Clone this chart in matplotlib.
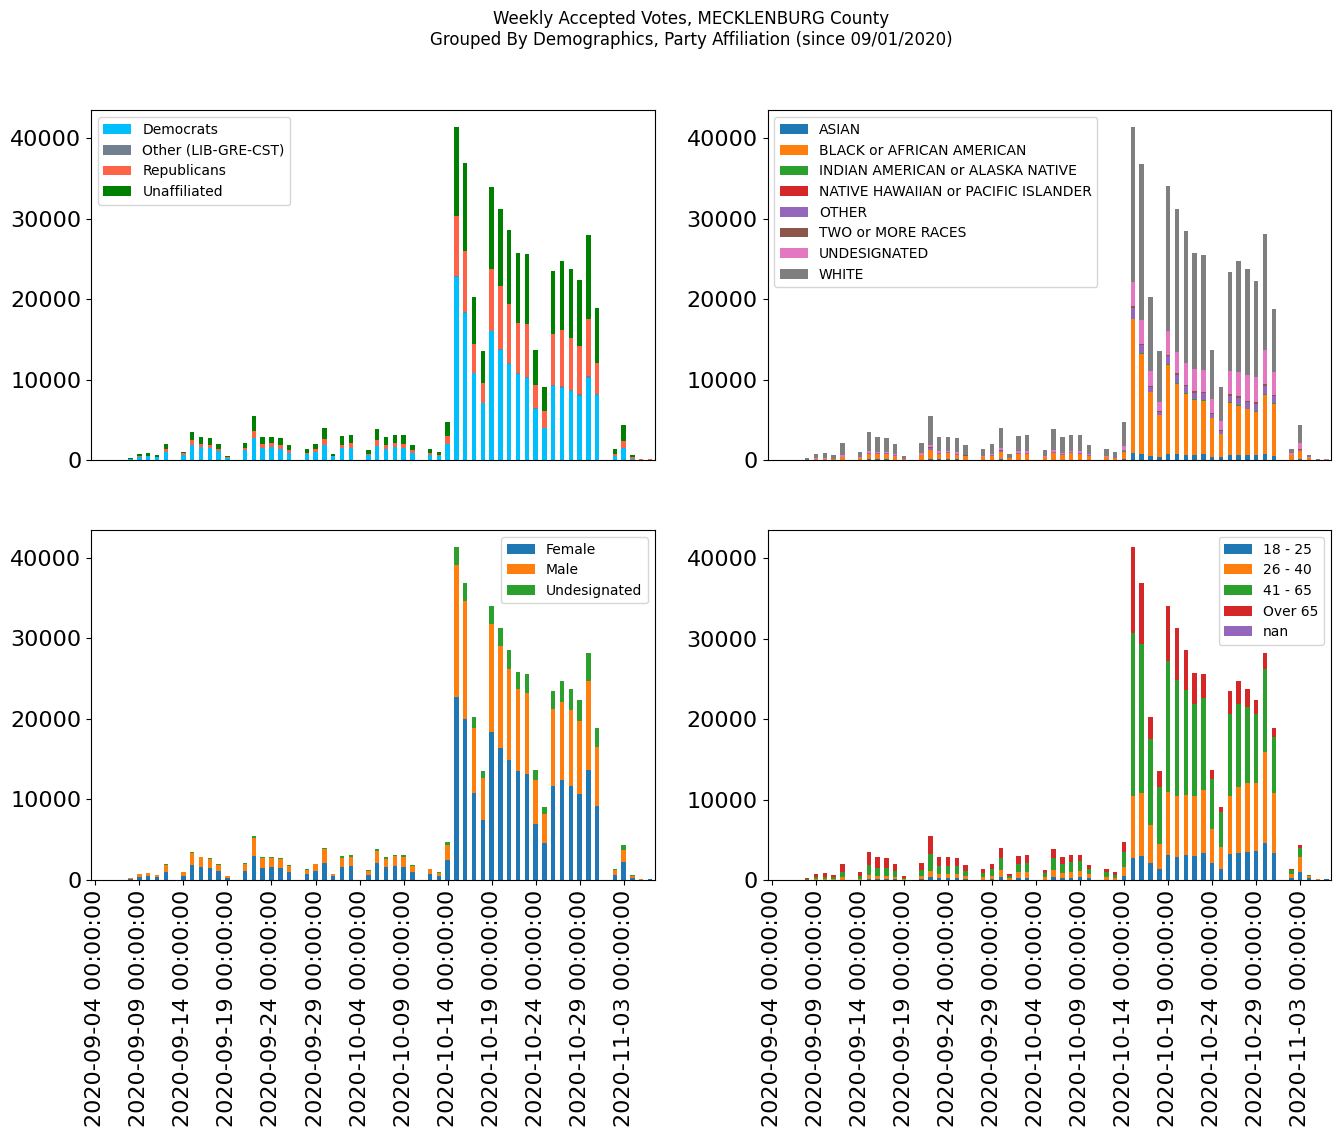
import numpy as np
import pandas as pd
import matplotlib
matplotlib.use("Agg")
import matplotlib.pyplot as plt

# ---------------- data ----------------
START_DATE = "2020-09-04"
N_DAYS = 64
DATES = pd.date_range(START_DATE, periods=N_DAYS)
TICK_STEP = 5

# Party affiliation
PARTY_LABELS = ["Democrats", "Other (LIB-GRE-CST)", "Republicans", "Unaffiliated"]
DEM = [0, 0, 0,
       0, 100, 330, 500, 330, 1040, 0,
       620, 1820, 1570, 1490, 1120, 250, 0,
       1280, 2730, 1490, 1570, 1320, 830, 0,
       790, 1040, 1820, 500, 1450, 1490, 0,
       620, 1780, 1370, 1570, 1530, 870, 0,
       620, 540, 2030, 22700, 18300, 10770, 7080,
       16000, 13700, 12000, 10700, 10200, 6380, 3980,
       9200, 9000, 8600, 7950, 10200, 8100, 0,
       540, 1530, 120, 0, 0]
OTH = [0, 0, 0,
       0, 0, 10, 0, 10, 10, 0,
       10, 20, 10, 10, 10, 0, 0,
       10, 20, 10, 10, 10, 10, 0,
       0, 10, 20, 0, 10, 10, 0,
       0, 20, 10, 10, 10, 10, 0,
       0, 0, 20, 150, 150, 50, 40,
       100, 80, 80, 80, 80, 120, 50,
       150, 150, 100, 200, 250, 100, 0,
       0, 10, 0, 0, 0]
REP = [0, 0, 0,
       0, 30, 200, 50, 40, 330, 0,
       210, 660, 420, 330, 250, 120, 0,
       210, 870, 500, 540, 540, 410, 0,
       80, 330, 790, 30, 410, 620, 0,
       130, 700, 490, 540, 460, 370, 0,
       250, 80, 950, 7450, 7600, 3600, 2490,
       7700, 7800, 7300, 6300, 6600, 2820, 2060,
       6300, 7000, 6450, 6000, 7100, 3850, 0,
       250, 830, 250, 100, 100]
UNA = [0, 0, 0,
       0, 120, 210, 320, 250, 630, 0,
       170, 1000, 870, 910, 620, 130, 0,
       620, 1870, 870, 750, 870, 620, 0,
       500, 620, 1370, 220, 1120, 990, 0,
       490, 1370, 990, 990, 1120, 620, 0,
       500, 370, 1740, 11100, 10900, 5850, 3970,
       10200, 9700, 9200, 8700, 8700, 4340, 2980,
       7850, 8550, 8550, 8200, 10400, 6850, 0,
       580, 1990, 250, 0, 0]

# Race
RACE_LABELS = ["ASIAN", "BLACK or AFRICAN AMERICAN", "INDIAN AMERICAN or ALASKA NATIVE",
               "NATIVE HAWAIIAN or PACIFIC ISLANDER", "OTHER", "TWO or MORE RACES",
               "UNDESIGNATED", "WHITE"]
ASIAN = [0, 0, 0,
         0, 0, 10, 10, 10, 30, 0,
         10, 80, 80, 80, 60, 10, 0,
         50, 120, 80, 80, 80, 60, 0,
         20, 40, 120, 10, 60, 60, 0,
         20, 50, 40, 50, 50, 30, 0,
         20, 20, 80, 910, 750, 500, 370,
         750, 750, 620, 620, 750, 370, 370,
         620, 620, 620, 620, 750, 500, 0,
         30, 100, 10, 0, 0]
BLACK = [0, 0, 0,
         0, 50, 80, 100, 80, 300, 0,
         250, 670, 670, 670, 440, 120, 0,
         530, 1120, 670, 790, 540, 440, 0,
         340, 460, 880, 200, 690, 690, 0,
         340, 780, 580, 780, 700, 470, 0,
         350, 280, 960, 16600, 12450, 7950, 5230,
         11050, 8700, 7600, 6850, 6600, 4850, 2880,
         6500, 6100, 5700, 5400, 7350, 6500, 0,
         550, 1000, 200, 0, 0]
INDIAN = [0, 0, 0,
          0, 0, 0, 0, 0, 10, 0,
          0, 10, 10, 10, 10, 0, 0,
          10, 20, 10, 10, 10, 10, 0,
          0, 10, 20, 0, 10, 10, 0,
          0, 10, 10, 10, 10, 10, 0,
          0, 0, 20, 60, 50, 40, 30,
          150, 100, 80, 80, 80, 30, 20,
          80, 80, 60, 60, 80, 80, 0,
          0, 10, 0, 0, 0]
NHPI = [0, 0, 0,
        0, 0, 0, 0, 0, 0, 0,
        0, 10, 0, 0, 0, 0, 0,
        0, 10, 0, 0, 0, 0, 0,
        0, 0, 10, 0, 0, 0, 0,
        0, 0, 0, 0, 0, 0, 0,
        0, 0, 10, 20, 20, 10, 10,
        20, 20, 20, 20, 20, 10, 10,
        20, 20, 20, 20, 20, 20, 0,
        0, 0, 0, 0, 0]
OTHER_RACE = [0, 0, 0,
              0, 0, 30, 20, 20, 40, 0,
              20, 100, 60, 60, 60, 80, 0,
              50, 250, 100, 100, 120, 40, 0,
              20, 80, 130, 10, 120, 80, 0,
              30, 120, 80, 100, 100, 80, 0,
              30, 20, 150, 1300, 1050, 600, 370,
              1000, 950, 850, 750, 870, 480, 370,
              750, 870, 870, 870, 1000, 870, 0,
              40, 150, 10, 0, 0]
TWO_MORE = [0, 0, 0,
            0, 0, 0, 0, 0, 10, 0,
            0, 20, 10, 10, 10, 0, 0,
            10, 40, 20, 20, 20, 10, 0,
            0, 10, 40, 0, 20, 50, 0,
            0, 20, 10, 20, 20, 10, 0,
            0, 0, 30, 250, 150, 120, 120,
            150, 250, 130, 250, 120, 120, 120,
            250, 250, 120, 250, 250, 120, 0,
            0, 100, 0, 0, 0]
UNDES_RACE = [0, 0, 0,
              0, 0, 80, 80, 60, 170, 0,
              80, 250, 200, 120, 120, 60, 0,
              250, 340, 200, 150, 200, 100, 0,
              120, 120, 250, 50, 200, 250, 0,
              120, 250, 200, 200, 200, 100, 0,
              120, 80, 500, 3000, 2900, 1800, 1100,
              2900, 2700, 2800, 2700, 2800, 1700, 1080,
              2800, 3050, 3200, 3050, 4200, 2800, 0,
              250, 750, 100, 0, 100]
WHITE = [0, 0, 0,
         0, 200, 560, 670, 450, 1500, 0,
         640, 2380, 1850, 1800, 1310, 230, 0,
         1220, 3600, 1810, 1740, 1790, 1220, 0,
         880, 1290, 2560, 490, 1910, 1970, 0,
         740, 2650, 1960, 1970, 2050, 1180, 0,
         850, 590, 3030, 19260, 19500, 9200, 6270,
         18000, 17800, 16400, 14500, 14300, 6100, 4220,
         12400, 13700, 13200, 12050, 14500, 7950, 0,
         500, 2250, 300, 100, 0]

# Gender
GENDER_LABELS = ["Female", "Male", "Undesignated"]
FEMALE = [0, 0, 0,
          0, 100, 370, 500, 370, 990, 0,
          500, 1860, 1610, 1490, 1120, 250, 0,
          1120, 2980, 1490, 1610, 1490, 990, 0,
          750, 1120, 2110, 500, 1610, 1740, 0,
          620, 2110, 1610, 1740, 1610, 990, 0,
          750, 500, 2480, 22700, 20000, 10800, 7450,
          18400, 16400, 14900, 13500, 13200, 6960, 4600,
          11700, 12400, 11700, 10700, 13660, 9200, 0,
          620, 2240, 250, 0, 100]
MALE = [0, 0, 0,
        0, 150, 370, 370, 250, 870, 0,
        500, 1490, 1250, 1120, 740, 250, 0,
        870, 2240, 1240, 1120, 1120, 750, 0,
        490, 870, 1740, 250, 1120, 1120, 0,
        500, 1490, 1000, 1240, 1250, 750, 0,
        620, 370, 1870, 16400, 14700, 8100, 5220,
        13400, 12700, 11300, 10200, 10000, 5460, 3600,
        9500, 9700, 9400, 9050, 11040, 7300, 0,
        620, 1490, 250, 100, 0]
UNDES_GENDER = [0, 0, 0,
                0, 0, 10, 0, 0, 140, 0,
                0, 130, 30, 120, 120, 0, 0,
                120, 250, 130, 130, 120, 120, 0,
                130, 30, 130, 0, 250, 250, 0,
                120, 250, 250, 120, 250, 120, 0,
                30, 120, 370, 2300, 2200, 1350, 870,
                2200, 2200, 2400, 2100, 2400, 1240, 870,
                2300, 2600, 2600, 2600, 3500, 2400, 0,
                130, 620, 120, 0, 0]

# Age
AGE_LABELS = ["18 - 25", "26 - 40", "41 - 65", "Over 65", "nan"]
AGE_18_25 = [0, 0, 0,
             0, 0, 30, 30, 30, 50, 0,
             30, 120, 120, 100, 80, 30, 0,
             100, 370, 250, 250, 250, 120, 0,
             60, 80, 370, 60, 250, 250, 0,
             60, 370, 250, 250, 370, 250, 0,
             60, 60, 500, 2730, 2980, 2110, 1370,
             3100, 2860, 3100, 2980, 3350, 2110, 1370,
             3230, 3350, 3480, 3600, 4600, 3350, 0,
             250, 990, 250, 0, 100]
AGE_26_40 = [0, 0, 0,
             0, 30, 90, 90, 90, 320, 0,
             100, 500, 380, 400, 290, 100, 0,
             400, 750, 500, 500, 500, 380, 0,
             310, 420, 870, 190, 740, 740, 0,
             310, 870, 620, 740, 750, 500, 0,
             310, 190, 1110, 7700, 7820, 4720, 3100,
             7830, 7540, 7460, 7460, 7830, 4230, 2730,
             7200, 8200, 8570, 8450, 11300, 7450, 0,
             500, 1870, 250, 100, 0]
AGE_41_65 = [0, 0, 0,
             0, 60, 250, 250, 250, 620, 0,
             370, 1240, 990, 990, 750, 120, 0,
             740, 2110, 990, 990, 990, 620, 0,
             500, 870, 1490, 250, 1000, 1120, 0,
             500, 1490, 1120, 1250, 1240, 620, 0,
             620, 370, 1870, 20300, 18500, 10670, 7080,
             16270, 14400, 13000, 11450, 11500, 6200, 4390,
             10200, 10350, 9450, 8550, 10300, 6960, 0,
             490, 1120, 120, 0, 0]
AGE_OVER_65 = [0, 0, 0,
               0, 160, 370, 500, 250, 1010, 0,
               500, 1620, 1370, 1240, 870, 250, 0,
               870, 2240, 1120, 1120, 990, 740, 0,
               500, 620, 1250, 250, 990, 990, 0,
               370, 1120, 870, 860, 740, 490, 0,
               380, 370, 1240, 10700, 7600, 2750, 1990,
               6800, 6500, 5000, 3900, 2900, 1120, 580,
               2870, 2800, 2200, 1800, 2000, 1140, 0,
               130, 370, 0, 0, 0]
AGE_NAN = [0] * N_DAYS

TITLE = ("Weekly Accepted Votes, MECKLENBURG County\n"
         "Grouped By Demographics, Party Affiliation (since 09/01/2020)")

# ---------------- styles ----------------
PARTY_COLORS = ["#00bfff", "#708090", "#ff6347", "#008000"]
TAB = plt.rcParams["axes.prop_cycle"].by_key()["color"]

plt.rcParams["font.family"] = ["DejaVu Sans"]

fig = plt.figure(figsize=(13.4, 11.37), dpi=100)
W, H = 1340.0, 1137.0

def axes_at(x0, y0, x1, y1):
    return fig.add_axes([x0 / W, 1 - y1 / H, (x1 - x0) / W, (y1 - y0) / H])

ax_party = axes_at(91, 110.5, 654.5, 460)
ax_race = axes_at(767.5, 110.5, 1331, 460)
ax_gender = axes_at(91, 530, 654.5, 880)
ax_age = axes_at(767.5, 530, 1331, 880)

x = np.arange(N_DAYS)

def stacked(ax, series, labels, colors, legend_loc):
    bottom = np.zeros(N_DAYS)
    for vals, lab, col in zip(series, labels, colors):
        v = np.asarray(vals, dtype=float)
        ax.bar(x, v, width=0.5, bottom=bottom, color=col, label=lab, linewidth=0)
        bottom += v
    ax.set_xlim(-0.5, N_DAYS - 0.5)
    ax.set_ylim(0, bottom.max() * 1.05)
    ax.set_yticks([0, 10000, 20000, 30000, 40000])
    ax.tick_params(axis="y", labelsize=16)
    ax.legend(loc=legend_loc, fontsize=10, labelspacing=0.48)

stacked(ax_party, [DEM, OTH, REP, UNA], PARTY_LABELS, PARTY_COLORS, "upper left")
stacked(ax_race, [ASIAN, BLACK, INDIAN, NHPI, OTHER_RACE, TWO_MORE, UNDES_RACE, WHITE],
        RACE_LABELS, TAB[:8], "upper left")
stacked(ax_gender, [FEMALE, MALE, UNDES_GENDER], GENDER_LABELS, TAB[:3], "upper right")
stacked(ax_age, [AGE_18_25, AGE_26_40, AGE_41_65, AGE_OVER_65, AGE_NAN],
        AGE_LABELS, TAB[:5], "upper right")

tick_pos = x[::TICK_STEP]
tick_lab = [str(d) for d in DATES[::TICK_STEP]]
for ax in (ax_party, ax_race):
    ax.set_xticks([])
for ax in (ax_gender, ax_age):
    ax.set_xticks(tick_pos)
    ax.set_xticklabels(tick_lab, rotation=90, fontsize=16)

fig.suptitle(TITLE, fontsize=12, x=691 / W, y=1 - 10 / H, va="top")

fig.savefig("out.png", dpi=100)
